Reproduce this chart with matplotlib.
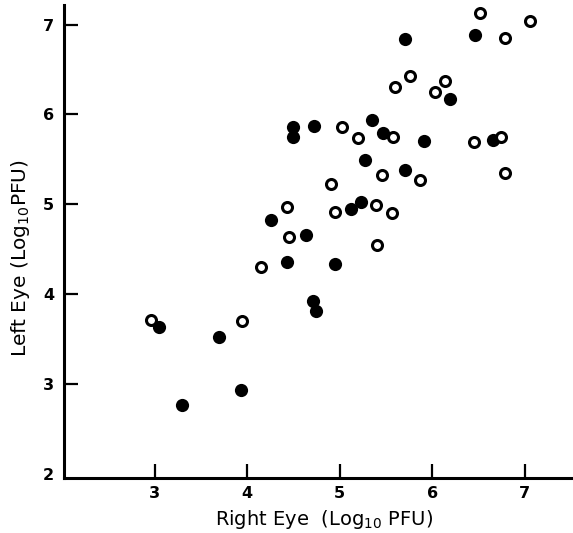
import matplotlib
matplotlib.use("Agg")
import matplotlib.pyplot as plt

# Open circles
open_x = [2.96, 3.94, 4.15, 4.43, 4.45, 4.91, 4.95, 5.02, 5.20, 5.39, 5.40, 5.56, 5.46,
          5.58, 5.87, 5.60, 5.76, 6.03, 6.14, 6.45, 6.52, 6.74, 6.79, 6.79, 7.06]
open_y = [3.71, 3.70, 4.30, 4.97, 4.63, 5.23, 4.91, 5.86, 5.74, 4.99, 4.55, 4.90, 5.33,
          5.75, 5.27, 6.31, 6.43, 6.25, 6.37, 5.69, 7.13, 5.75, 6.85, 5.35, 7.04]

# Filled circles
fill_x = [3.05, 3.30, 3.70, 3.93, 4.26, 4.43, 4.49, 4.49, 4.72, 4.64, 4.71, 4.74, 4.95,
          5.12, 5.23, 5.27, 5.35, 5.47, 5.70, 5.70, 5.91, 6.19, 6.46, 6.66]
fill_y = [3.63, 2.76, 3.52, 2.93, 4.83, 4.36, 5.86, 5.75, 5.87, 4.66, 3.92, 3.81, 4.33,
          4.95, 5.03, 5.49, 5.94, 5.79, 5.38, 6.84, 5.70, 6.17, 6.89, 5.72]

x_ticks = [3, 4, 5, 6, 7]
y_ticks = [2, 3, 4, 5, 6, 7]

fig = plt.figure(figsize=(5.73, 5.33), dpi=100)
ax = fig.add_axes([64/573, 55/533, 509/573, 473/533])

ax.plot(fill_x, fill_y, 'o', color='black', markersize=9.5, markeredgewidth=0, linestyle='none')
ax.plot(open_x, open_y, 'o', markerfacecolor='white', markeredgecolor='black',
        markersize=7.2, markeredgewidth=2.2, linestyle='none')

ax.set_xlim(2.02, 7.52)
ax.set_ylim(1.95, 7.22)

for s in ['top', 'right']:
    ax.spines[s].set_visible(False)
for s in ['left', 'bottom']:
    ax.spines[s].set_linewidth(2.2)

ax.set_xticks(x_ticks)
ax.set_yticks(y_ticks)
ax.tick_params(direction='in', length=10, width=1.6, labelsize=11.5, pad=7)
ax.tick_params(axis='x', pad=6)
for lab in ax.get_xticklabels() + ax.get_yticklabels():
    lab.set_fontweight('bold')
ax.yaxis.get_major_ticks()[0].tick1line.set_visible(False)

ax.set_xlabel(r'Right Eye  (Log$_{\mathregular{10}}$ PFU)', fontsize=14)
ax.set_ylabel(r'Left Eye (Log$_{\mathregular{10}}$PFU)', fontsize=14.5)
ax.xaxis.set_label_coords(0.51, -0.064)
ax.yaxis.set_label_coords(-0.062, 0.465)

fig.savefig('out.png', dpi=100)
